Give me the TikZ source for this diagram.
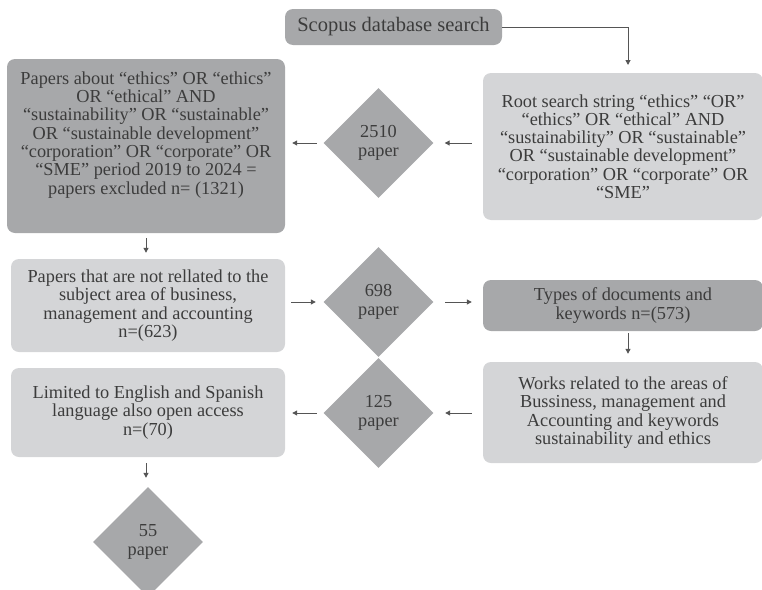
\documentclass[tikz,border=0pt]{standalone}
\usepackage{fontspec}
\setmainfont{Liberation Serif}
\usetikzlibrary{shapes.geometric,arrows.meta}
\definecolor{darkbox}{HTML}{A7A8AA}
\definecolor{lightbox}{HTML}{D4D5D7}
\definecolor{txt}{HTML}{3C3C3C}
\definecolor{arrc}{HTML}{555555}
\tikzset{
  boxbase/.style={rectangle, rounded corners=8pt, inner sep=0pt, align=center, text=txt,
    font=\fontsize{18.3}{18.3}\selectfont},
  darkb/.style={boxbase, fill=darkbox},
  lightb/.style={boxbase, fill=lightbox},
  dia/.style={diamond, fill=darkbox, inner sep=0pt, minimum width=110pt, minimum height=110pt,
    align=center, text=txt, font=\fontsize{18.3}{19}\selectfont},
  arr/.style={draw=arrc, line width=1pt, -{Triangle[length=5pt,width=5pt]}}
}
\begin{document}
\begin{tikzpicture}[x=1pt,y=-1pt]
\useasboundingbox (0,0) rectangle (762,589);
\node[darkb, minimum width=217pt, minimum height=36pt, font=\fontsize{20.5}{20.5}\selectfont] (scopus) at (393.5,27) {Scopus database search};
\node[lightb, minimum width=280pt, minimum height=147pt] (root) at (623,146.5)
  {Root search string “ethics” “OR”\\ “ethics” OR “ethical” AND\\ “sustainability” OR “sustainable”\\ OR “sustainable development”\\ “corporation” OR “corporate” OR\\ “SME”};
\node[darkb, minimum width=278pt, minimum height=174pt] (papers) at (146,146)
  {Papers about “ethics” OR “ethics”\\ OR “ethical” AND\\ “sustainability” OR “sustainable”\\ OR “sustainable development”\\ “corporation” OR “corporate” OR\\ “SME” period 2019 to 2024 =\\ papers excluded n= (1321)\\[8pt]};
\node[dia] (d2510) at (378.5,143) {2510\\paper};
\node[lightb, minimum width=274pt, minimum height=93pt] (notrel) at (148,305.5)
  {Papers that are not rellated to the\\ subject area of business,\\ management and accounting\\ n=(623)};
\node[dia] (d698) at (378.5,302) {698\\paper};
\node[darkb, minimum width=280pt, minimum height=51pt] (types) at (623,305.5)
  {Types of documents and\\ keywords n=(573)};
\node[lightb, minimum width=280pt, minimum height=101pt] (works) at (623,412.5)
  {Works related to the areas of\\ Bussiness, management and\\ Accounting and keywords\\ sustainability and ethics};
\node[dia] (d125) at (378.5,413) {125\\paper};
\node[lightb, minimum width=274pt, minimum height=89pt] (limited) at (148,412.5)
  {Limited to English and Spanish\\ language also open access\\ n=(70)};
\node[dia] (d55) at (148,542) {55\\paper};
\coordinate (rt) at (628,73);
\draw[arr, shorten >=8pt] (scopus.east) -| (rt);
\draw[arr, shorten <=11pt, shorten >=11pt] (root.west |- d2510.east) -- (d2510.east);
\draw[arr, shorten <=6.5pt, shorten >=7pt] (d2510.west) -- (papers.east |- d2510.west);
\draw[arr, shorten <=5pt, shorten >=6pt] (papers.south) -- (papers.south |- notrel.north);
\draw[arr, shorten <=6pt, shorten >=7.5pt] (notrel.east |- d698.west) -- (d698.west);
\draw[arr, shorten <=11.5pt, shorten >=11pt] (d698.east) -- (types.west |- d698.east);
\draw[arr, shorten <=2pt, shorten >=8pt] (types.south -| rt) -- (works.north -| rt);
\draw[arr, shorten <=11pt, shorten >=11.5pt] (works.west |- d125.east) -- (d125.east);
\draw[arr, shorten <=6.5pt, shorten >=7pt] (d125.west) -- (limited.east |- d125.west);
\draw[arr, shorten <=6pt, shorten >=9pt] (limited.south -| papers.south) -- (d55.north -| papers.south);
\end{tikzpicture}
\end{document}
